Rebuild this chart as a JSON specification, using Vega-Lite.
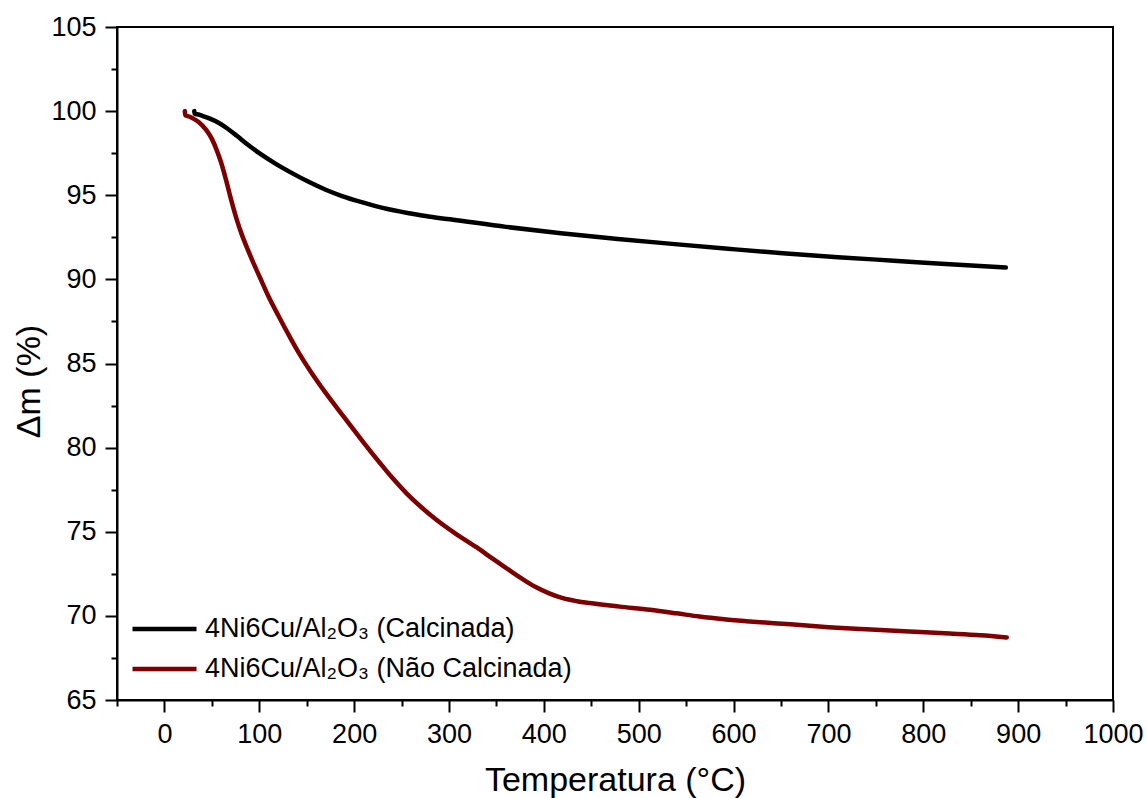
{
  "$schema": "https://vega.github.io/schema/vega-lite/v6.json",
  "width": 996,
  "height": 673,
  "autosize": {"type": "none"},
  "padding": {"left": 117, "top": 27, "right": 34, "bottom": 98},
  "background": "white",
  "config": {
    "view": {"stroke": "black", "strokeWidth": 2},
    "font": "Liberation Sans"
  },
  "data": {
    "values": [
      {"T": 31.5, "m": 100.0, "s": "4Ni6Cu/Al₂O₃ (Calcinada)"},
      {"T": 31.8, "m": 99.85, "s": "4Ni6Cu/Al₂O₃ (Calcinada)"},
      {"T": 36, "m": 99.8, "s": "4Ni6Cu/Al₂O₃ (Calcinada)"},
      {"T": 40, "m": 99.72, "s": "4Ni6Cu/Al₂O₃ (Calcinada)"},
      {"T": 48, "m": 99.55, "s": "4Ni6Cu/Al₂O₃ (Calcinada)"},
      {"T": 58, "m": 99.28, "s": "4Ni6Cu/Al₂O₃ (Calcinada)"},
      {"T": 66, "m": 98.98, "s": "4Ni6Cu/Al₂O₃ (Calcinada)"},
      {"T": 76, "m": 98.55, "s": "4Ni6Cu/Al₂O₃ (Calcinada)"},
      {"T": 88, "m": 98.0, "s": "4Ni6Cu/Al₂O₃ (Calcinada)"},
      {"T": 100, "m": 97.5, "s": "4Ni6Cu/Al₂O₃ (Calcinada)"},
      {"T": 117, "m": 96.88, "s": "4Ni6Cu/Al₂O₃ (Calcinada)"},
      {"T": 135, "m": 96.3, "s": "4Ni6Cu/Al₂O₃ (Calcinada)"},
      {"T": 152, "m": 95.8, "s": "4Ni6Cu/Al₂O₃ (Calcinada)"},
      {"T": 170, "m": 95.33, "s": "4Ni6Cu/Al₂O₃ (Calcinada)"},
      {"T": 188, "m": 94.94, "s": "4Ni6Cu/Al₂O₃ (Calcinada)"},
      {"T": 206, "m": 94.62, "s": "4Ni6Cu/Al₂O₃ (Calcinada)"},
      {"T": 230, "m": 94.25, "s": "4Ni6Cu/Al₂O₃ (Calcinada)"},
      {"T": 258, "m": 93.93, "s": "4Ni6Cu/Al₂O₃ (Calcinada)"},
      {"T": 280, "m": 93.72, "s": "4Ni6Cu/Al₂O₃ (Calcinada)"},
      {"T": 301, "m": 93.57, "s": "4Ni6Cu/Al₂O₃ (Calcinada)"},
      {"T": 360, "m": 93.12, "s": "4Ni6Cu/Al₂O₃ (Calcinada)"},
      {"T": 418, "m": 92.74, "s": "4Ni6Cu/Al₂O₃ (Calcinada)"},
      {"T": 475, "m": 92.42, "s": "4Ni6Cu/Al₂O₃ (Calcinada)"},
      {"T": 535, "m": 92.11, "s": "4Ni6Cu/Al₂O₃ (Calcinada)"},
      {"T": 594, "m": 91.82, "s": "4Ni6Cu/Al₂O₃ (Calcinada)"},
      {"T": 652, "m": 91.55, "s": "4Ni6Cu/Al₂O₃ (Calcinada)"},
      {"T": 710, "m": 91.32, "s": "4Ni6Cu/Al₂O₃ (Calcinada)"},
      {"T": 769, "m": 91.11, "s": "4Ni6Cu/Al₂O₃ (Calcinada)"},
      {"T": 828, "m": 90.9, "s": "4Ni6Cu/Al₂O₃ (Calcinada)"},
      {"T": 887, "m": 90.7, "s": "4Ni6Cu/Al₂O₃ (Calcinada)"},
      {"T": 21.5, "m": 100.0, "s": "4Ni6Cu/Al₂O₃ (Não Calcinada)"},
      {"T": 22.0, "m": 99.75, "s": "4Ni6Cu/Al₂O₃ (Não Calcinada)"},
      {"T": 26, "m": 99.68, "s": "4Ni6Cu/Al₂O₃ (Não Calcinada)"},
      {"T": 30, "m": 99.57, "s": "4Ni6Cu/Al₂O₃ (Não Calcinada)"},
      {"T": 36, "m": 99.35, "s": "4Ni6Cu/Al₂O₃ (Não Calcinada)"},
      {"T": 44, "m": 98.88, "s": "4Ni6Cu/Al₂O₃ (Não Calcinada)"},
      {"T": 50, "m": 98.35, "s": "4Ni6Cu/Al₂O₃ (Não Calcinada)"},
      {"T": 55, "m": 97.7, "s": "4Ni6Cu/Al₂O₃ (Não Calcinada)"},
      {"T": 60, "m": 96.9, "s": "4Ni6Cu/Al₂O₃ (Não Calcinada)"},
      {"T": 65, "m": 95.9, "s": "4Ni6Cu/Al₂O₃ (Não Calcinada)"},
      {"T": 70, "m": 94.8, "s": "4Ni6Cu/Al₂O₃ (Não Calcinada)"},
      {"T": 76, "m": 93.6, "s": "4Ni6Cu/Al₂O₃ (Não Calcinada)"},
      {"T": 82, "m": 92.6, "s": "4Ni6Cu/Al₂O₃ (Não Calcinada)"},
      {"T": 88, "m": 91.75, "s": "4Ni6Cu/Al₂O₃ (Não Calcinada)"},
      {"T": 94, "m": 90.95, "s": "4Ni6Cu/Al₂O₃ (Não Calcinada)"},
      {"T": 100, "m": 90.2, "s": "4Ni6Cu/Al₂O₃ (Não Calcinada)"},
      {"T": 110, "m": 88.95, "s": "4Ni6Cu/Al₂O₃ (Não Calcinada)"},
      {"T": 121, "m": 87.75, "s": "4Ni6Cu/Al₂O₃ (Não Calcinada)"},
      {"T": 131, "m": 86.7, "s": "4Ni6Cu/Al₂O₃ (Não Calcinada)"},
      {"T": 142, "m": 85.6, "s": "4Ni6Cu/Al₂O₃ (Não Calcinada)"},
      {"T": 155, "m": 84.45, "s": "4Ni6Cu/Al₂O₃ (Não Calcinada)"},
      {"T": 170, "m": 83.25, "s": "4Ni6Cu/Al₂O₃ (Não Calcinada)"},
      {"T": 182, "m": 82.35, "s": "4Ni6Cu/Al₂O₃ (Não Calcinada)"},
      {"T": 195, "m": 81.4, "s": "4Ni6Cu/Al₂O₃ (Não Calcinada)"},
      {"T": 210, "m": 80.3, "s": "4Ni6Cu/Al₂O₃ (Não Calcinada)"},
      {"T": 227, "m": 79.1, "s": "4Ni6Cu/Al₂O₃ (Não Calcinada)"},
      {"T": 240, "m": 78.22, "s": "4Ni6Cu/Al₂O₃ (Não Calcinada)"},
      {"T": 255, "m": 77.3, "s": "4Ni6Cu/Al₂O₃ (Não Calcinada)"},
      {"T": 270, "m": 76.5, "s": "4Ni6Cu/Al₂O₃ (Não Calcinada)"},
      {"T": 287, "m": 75.7, "s": "4Ni6Cu/Al₂O₃ (Não Calcinada)"},
      {"T": 308, "m": 74.85, "s": "4Ni6Cu/Al₂O₃ (Não Calcinada)"},
      {"T": 329, "m": 74.08, "s": "4Ni6Cu/Al₂O₃ (Não Calcinada)"},
      {"T": 346, "m": 73.4, "s": "4Ni6Cu/Al₂O₃ (Não Calcinada)"},
      {"T": 364, "m": 72.7, "s": "4Ni6Cu/Al₂O₃ (Não Calcinada)"},
      {"T": 380, "m": 72.1, "s": "4Ni6Cu/Al₂O₃ (Não Calcinada)"},
      {"T": 392, "m": 71.7, "s": "4Ni6Cu/Al₂O₃ (Não Calcinada)"},
      {"T": 405, "m": 71.35, "s": "4Ni6Cu/Al₂O₃ (Não Calcinada)"},
      {"T": 420, "m": 71.05, "s": "4Ni6Cu/Al₂O₃ (Não Calcinada)"},
      {"T": 435, "m": 70.87, "s": "4Ni6Cu/Al₂O₃ (Não Calcinada)"},
      {"T": 448, "m": 70.76, "s": "4Ni6Cu/Al₂O₃ (Não Calcinada)"},
      {"T": 480, "m": 70.55, "s": "4Ni6Cu/Al₂O₃ (Não Calcinada)"},
      {"T": 512, "m": 70.36, "s": "4Ni6Cu/Al₂O₃ (Não Calcinada)"},
      {"T": 540, "m": 70.15, "s": "4Ni6Cu/Al₂O₃ (Não Calcinada)"},
      {"T": 564, "m": 69.96, "s": "4Ni6Cu/Al₂O₃ (Não Calcinada)"},
      {"T": 590, "m": 69.8, "s": "4Ni6Cu/Al₂O₃ (Não Calcinada)"},
      {"T": 617, "m": 69.67, "s": "4Ni6Cu/Al₂O₃ (Não Calcinada)"},
      {"T": 660, "m": 69.5, "s": "4Ni6Cu/Al₂O₃ (Não Calcinada)"},
      {"T": 700, "m": 69.33, "s": "4Ni6Cu/Al₂O₃ (Não Calcinada)"},
      {"T": 740, "m": 69.2, "s": "4Ni6Cu/Al₂O₃ (Não Calcinada)"},
      {"T": 780, "m": 69.08, "s": "4Ni6Cu/Al₂O₃ (Não Calcinada)"},
      {"T": 828, "m": 68.95, "s": "4Ni6Cu/Al₂O₃ (Não Calcinada)"},
      {"T": 860, "m": 68.85, "s": "4Ni6Cu/Al₂O₃ (Não Calcinada)"},
      {"T": 888, "m": 68.72, "s": "4Ni6Cu/Al₂O₃ (Não Calcinada)"}
    ]
  },
  "layer": [
    {
      "mark": {"type": "line", "strokeWidth": 4.5, "strokeCap": "round", "strokeJoin": "round", "interpolate": "monotone"},
      "encoding": {
        "x": {
          "field": "T", "type": "quantitative",
          "scale": {"domain": [-50, 1000], "nice": false, "zero": false},
          "axis": {
            "title": "Temperatura (°C)", "orient": "bottom", "format": "d",
            "values": [0, 100, 200, 300, 400, 500, 600, 700, 800, 900, 1000],
            "grid": false, "tickSize": 12, "tickWidth": 2, "tickColor": "black",
            "domainColor": "black", "domainWidth": 2,
            "labelFontSize": 27, "labelColor": "black", "labelPadding": 9, "labelFlush": false,
            "labelFont": "Liberation Sans",
            "titleFontSize": 34, "titleFontWeight": "normal", "titleColor": "black",
            "titleFont": "Liberation Sans", "titleY": 90, "titleBaseline": "alphabetic"
          }
        },
        "y": {
          "field": "m", "type": "quantitative",
          "scale": {"domain": [65, 105], "nice": false, "zero": false},
          "axis": {
            "title": "Δm (%)", "orient": "left", "format": "d",
            "values": [65, 70, 75, 80, 85, 90, 95, 100, 105],
            "grid": false, "tickSize": 12, "tickWidth": 2, "tickColor": "black",
            "domainColor": "black", "domainWidth": 2,
            "labelFontSize": 27, "labelColor": "black", "labelPadding": 9, "labelFlush": false,
            "labelFont": "Liberation Sans",
            "titleFontSize": 34, "titleFontWeight": "normal", "titleColor": "black",
            "titleFont": "Liberation Sans", "titleX": -88, "titleY": 354, "titleBaseline": "middle"
          }
        },
        "color": {
          "field": "s", "type": "nominal",
          "scale": {
            "domain": ["4Ni6Cu/Al₂O₃ (Calcinada)", "4Ni6Cu/Al₂O₃ (Não Calcinada)"],
            "range": ["#000000", "#7d0000"]
          },
          "legend": {
            "orient": "none", "legendX": 13, "legendY": 582, "title": null,
            "symbolType": "stroke", "symbolSize": 4096, "symbolStrokeWidth": 4.5,
            "labelFontSize": 27, "labelFont": "Liberation Sans", "labelColor": "black",
            "labelOffset": 6, "clipHeight": 40, "rowPadding": 0, "padding": 0, "labelLimit": 0
          }
        }
      }
    },
    {
      "mark": {"type": "point", "opacity": 0},
      "encoding": {
        "x": {
          "field": "T", "type": "quantitative",
          "axis": {
            "orient": "bottom", "title": null, "labels": false, "domain": false, "grid": false,
            "values": [-50, 50, 150, 250, 350, 450, 550, 650, 750, 850, 950],
            "tickSize": 6, "tickWidth": 2, "tickColor": "black"
          }
        },
        "y": {
          "field": "m", "type": "quantitative",
          "axis": {
            "orient": "left", "title": null, "labels": false, "domain": false, "grid": false,
            "values": [67.5, 72.5, 77.5, 82.5, 87.5, 92.5, 97.5, 102.5],
            "tickSize": 6, "tickWidth": 2, "tickColor": "black"
          }
        }
      }
    }
  ],
  "resolve": {"axis": {"x": "independent", "y": "independent"}}
}
